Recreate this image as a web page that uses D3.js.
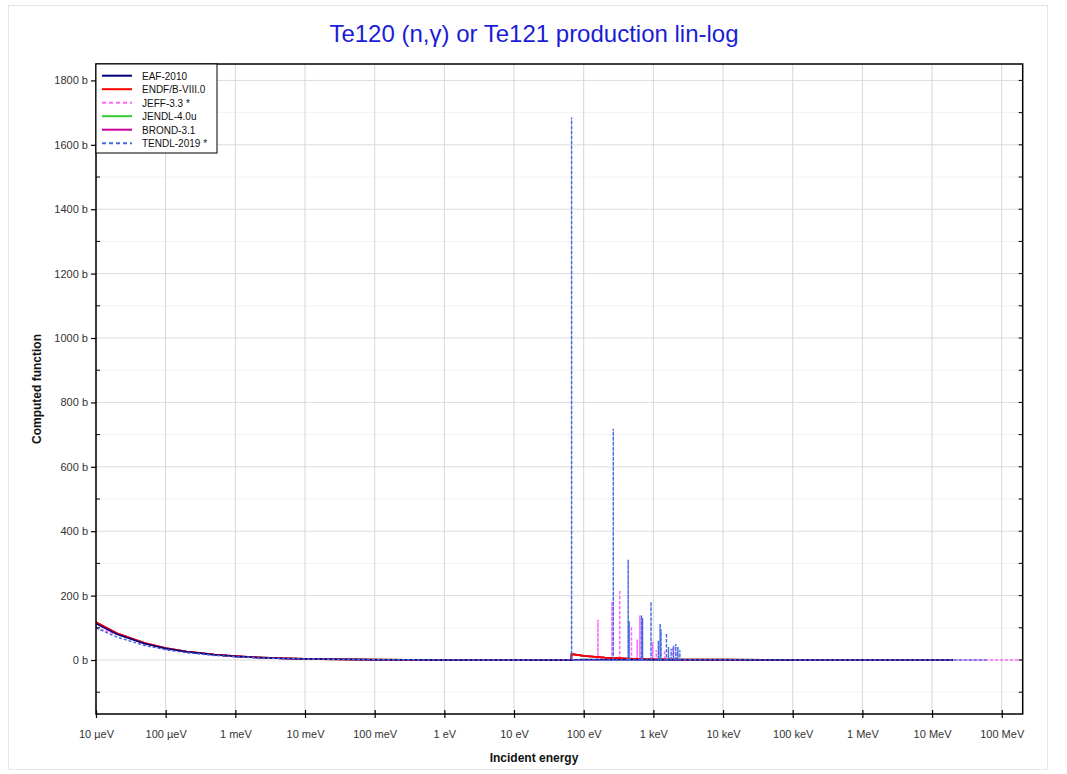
<!DOCTYPE html>
<html>
<head>
<meta charset="utf-8">
<script src="https://cdn.jsdelivr.net/npm/d3@7"></script>
<style>
  html, body { margin: 0; padding: 0; background: #fff; }
  svg { display: block; font-family: "Liberation Sans", Arial, sans-serif; }
</style>
</head>
<body>
<svg id="chart" width="1067" height="774"></svg>
<script>
// ---------------- DATA ----------------
const seriesNames = ["EAF-2010", "ENDF/B-VIII.0", "JEFF-3.3 *", "JENDL-4.0u", "BROND-3.1", "TENDL-2019 *"];

const xTickValues = [1e-5, 1e-4, 1e-3, 1e-2, 1e-1, 1, 10, 100, 1e3, 1e4, 1e5, 1e6, 1e7, 1e8];
const xTickLabels = ["10 µeV", "100 µeV", "1 meV", "10 meV", "100 meV", "1 eV", "10 eV", "100 eV", "1 keV", "10 keV", "100 keV", "1 MeV", "10 MeV", "100 MeV"];
const yTickValues = [0, 200, 400, 600, 800, 1000, 1200, 1400, 1600, 1800];
const yTickLabels = ["0 b", "200 b", "400 b", "600 b", "800 b", "1000 b", "1200 b", "1400 b", "1600 b", "1800 b"];
const yMinorValues = [-100, 100, 300, 500, 700, 900, 1100, 1300, 1500, 1700];

// smooth parts (energy in eV, value in b)
const eafE   = [1e-5, 2e-5, 5e-5, 1e-4, 2e-4, 5e-4, 1e-3, 2e-3, 5e-3, 1e-2, 3e-2, 0.1, 0.3, 1, 10, 67, 100, 300, 1000, 1e4, 1e5, 1e6, 1e7, 2e7];
const eafV   = [113, 80, 50.5, 35.7, 25.3, 16, 11.3, 8.0, 5.05, 3.57, 2.06, 1.13, 0.65, 0.36, 0.11, 0.05, 1.2, 1.0, 0.9, 0.6, 0.25, 0.1, 0.02, 0.01];

const endfE  = [1e-5, 2e-5, 5e-5, 1e-4, 2e-4, 5e-4, 1e-3, 2e-3, 5e-3, 1e-2, 3e-2, 0.1, 0.3, 1, 10, 66, 67, 100, 200, 300, 500, 1000, 3000, 1e4, 1e5, 1e6, 1e7, 2e7];
const endfV  = [117, 83, 52.3, 37, 26.2, 16.5, 11.7, 8.3, 5.2, 3.7, 2.1, 1.17, 0.68, 0.37, 0.12, 0.05, 18.6, 13, 7.5, 5.5, 3.5, 2.2, 1.3, 0.8, 0.3, 0.12, 0.03, 0.02];

const brondE = endfE;
const brondV = endfV;
const jendlE = endfE;
const jendlV = endfV;

const jeffE  = [1e-5, 1e-4, 1e-3, 1e-2, 0.1, 1, 10, 100, 3000, 1e4, 1e5, 1e6, 1e7, 2e8];
const jeffV  = [100, 32, 10, 3.2, 1.0, 0.32, 0.1, 0.5, 0.8, 0.6, 0.25, 0.08, 0.01, 0.005];
// resolved resonances of JEFF-3.3 (energy eV, peak b)
const jeffPeakE = [160, 255, 329, 485, 586, 641, 977, 1100, 1450, 1900, 2200];
const jeffPeakV = [125, 182, 217, 104, 64, 138, 57, 30, 30, 40, 25];

const tendlE = [1e-5, 2e-5, 5e-5, 1e-4, 2e-4, 5e-4, 1e-3, 2e-3, 5e-3, 1e-2, 0.1, 1, 10, 50, 3000, 1e4, 1e5, 1e6, 1e7, 6e7];
const tendlV = [100, 71, 45, 32, 22.5, 14.2, 10, 7.1, 4.5, 3.2, 1.0, 0.32, 0.1, 0.6, 1.0, 0.8, 0.25, 0.08, 0.01, 0.005];
// resolved resonances of TENDL-2019 (energy eV, peak b)
const tendlPeakE = [67, 266, 435, 449, 676, 700, 925, 1180, 1250, 1290, 1541, 1650, 1800, 1950, 2100, 2250, 2400];
const tendlPeakV = [1685, 718, 312, 120, 139, 130, 181, 60, 112, 95, 83, 40, 35, 45, 50, 40, 30];

// ---------------- CHART ----------------
const svg = d3.select("#chart");
const pL = 96, pR = 1022.7, pT = 64, pB = 714;

const x = d3.scaleLog().domain([1e-5, 2e8]).range([pL, pR]);
const y = d3.scaleLinear().domain([-167.7, 1851]).range([pB, pT]);

// outer faint frame
svg.append("rect").attr("x", 8.5).attr("y", 5.5).attr("width", 1039).attr("height", 764)
  .attr("fill", "none").attr("stroke", "#e6e6e6");

// title
svg.append("text").attr("x", 534).attr("y", 42).attr("text-anchor", "middle")
  .attr("fill", "#1c1cd6").style("font-size", "24px")
  .text("Te120 (n,γ) or Te121 production lin-log");

// grid
const grid = svg.append("g");
grid.selectAll("line.ymin").data(yMinorValues).enter().append("line")
  .attr("x1", pL).attr("x2", pR).attr("y1", d => y(d)).attr("y2", d => y(d))
  .attr("stroke", "#f2f2f2").attr("stroke-width", 1);
grid.selectAll("line.ymaj").data(yTickValues).enter().append("line")
  .attr("x1", pL).attr("x2", pR).attr("y1", d => y(d)).attr("y2", d => y(d))
  .attr("stroke", "#dcdcdc").attr("stroke-width", 1);
grid.selectAll("line.xmaj").data(xTickValues).enter().append("line")
  .attr("y1", pT).attr("y2", pB).attr("x1", d => x(d)).attr("x2", d => x(d))
  .attr("stroke", "#d6d6d6").attr("stroke-width", 1);

// build series
function pts(E, V) { return E.map((e, i) => [e, V[i]]); }
function withPeaks(E, V, PE, PV) {
  const base = pts(E, V);
  const sp = [];
  PE.forEach((e, i) => {
    sp.push([e * 0.9985, 0.5]);
    sp.push([e, PV[i]]);
    sp.push([e * 1.0015, 0.5]);
  });
  return base.concat(sp).sort((a, b) => a[0] - b[0]);
}

const series = [
  { name: "JEFF-3.3 *", color: "#ff66ff", dash: "3,2", w: 1.5, data: withPeaks(jeffE, jeffV, jeffPeakE, jeffPeakV) },
  { name: "JENDL-4.0u", color: "#33cc33", dash: null, w: 1.8, data: pts(jendlE, jendlV) },
  { name: "BROND-3.1", color: "#cc0099", dash: null, w: 1.8, data: pts(brondE, brondV) },
  { name: "ENDF/B-VIII.0", color: "#ff0000", dash: null, w: 1.8, data: pts(endfE, endfV) },
  { name: "EAF-2010", color: "#000080", dash: null, w: 1.5, data: pts(eafE, eafV) },
  { name: "TENDL-2019 *", color: "#4169e1", dash: "3,2", w: 1.4, data: withPeaks(tendlE, tendlV, tendlPeakE, tendlPeakV) }
];

const line = d3.line().x(d => x(d[0])).y(d => y(d[1]));
svg.append("clipPath").attr("id", "clip").append("rect")
  .attr("x", pL).attr("y", pT).attr("width", pR - pL).attr("height", pB - pT);
const plot = svg.append("g").attr("clip-path", "url(#clip)");
series.forEach(s => {
  plot.append("path").datum(s.data).attr("d", line)
    .attr("fill", "none").attr("stroke", s.color).attr("stroke-width", s.w)
    .attr("stroke-dasharray", s.dash);
});

// frame
svg.append("rect").attr("x", pL).attr("y", pT).attr("width", pR - pL).attr("height", pB - pT)
  .attr("fill", "none").attr("stroke", "#000").attr("stroke-width", 1.5);

// x axis
const xAxis = d3.axisBottom(x).tickValues(xTickValues)
  .tickFormat((d, i) => xTickLabels[i]).tickSizeInner(4).tickSizeOuter(0).tickPadding(12);
const gx = svg.append("g").attr("transform", `translate(0,${pB})`).call(xAxis);
gx.select(".domain").remove();
gx.selectAll(".tick line").attr("y1", -4).attr("y2", 4).attr("stroke", "#000").attr("stroke-width", 1.2);
gx.selectAll(".tick text").style("font-size", "11px").attr("fill", "#333");

// y axis
const yAxis = d3.axisLeft(y).tickValues(yTickValues)
  .tickFormat((d, i) => yTickLabels[i]).tickSizeInner(5).tickSizeOuter(0).tickPadding(3);
const gy = svg.append("g").attr("transform", `translate(${pL},0)`).call(yAxis);
gy.select(".domain").remove();
gy.selectAll(".tick line").attr("stroke", "#000").attr("stroke-width", 1.2);
gy.selectAll(".tick text").style("font-size", "11px").attr("fill", "#333");

// minor ticks inside (left and right)
svg.append("g").selectAll("line").data(yMinorValues).enter().append("line")
  .attr("x1", pL).attr("x2", pL + 4).attr("y1", d => y(d)).attr("y2", d => y(d))
  .attr("stroke", "#000").attr("stroke-width", 1);
svg.append("g").selectAll("line").data(yMinorValues.concat(yTickValues)).enter().append("line")
  .attr("x1", pR - 4).attr("x2", pR).attr("y1", d => y(d)).attr("y2", d => y(d))
  .attr("stroke", "#000").attr("stroke-width", 1);

// axis titles
svg.append("text").attr("x", 534).attr("y", 762).attr("text-anchor", "middle")
  .style("font-size", "12px").style("font-weight", "bold").attr("fill", "#111")
  .text("Incident energy");
svg.append("text").attr("transform", `translate(41,${(pT + pB) / 2}) rotate(-90)`)
  .attr("text-anchor", "middle").style("font-size", "12px").style("font-weight", "bold").attr("fill", "#111")
  .text("Computed function");

// legend
const legendOrder = [
  { name: "EAF-2010", color: "#000080", dash: null },
  { name: "ENDF/B-VIII.0", color: "#ff0000", dash: null },
  { name: "JEFF-3.3 *", color: "#ff66ff", dash: "4,3" },
  { name: "JENDL-4.0u", color: "#33cc33", dash: null },
  { name: "BROND-3.1", color: "#cc0099", dash: null },
  { name: "TENDL-2019 *", color: "#4169e1", dash: "4,3" }
];
const lg = svg.append("g");
lg.append("rect").attr("x", pL).attr("y", pT).attr("width", 121).attr("height", 89)
  .attr("fill", "#fff").attr("stroke", "#000").attr("stroke-width", 1);
legendOrder.forEach((s, i) => {
  const yy = 75.7 + i * 13.5;
  lg.append("line").attr("x1", 102).attr("x2", 132).attr("y1", yy).attr("y2", yy)
    .attr("stroke", s.color).attr("stroke-width", 2).attr("stroke-dasharray", s.dash);
  lg.append("text").attr("x", 142).attr("y", yy + 3.8).style("font-size", "10px").attr("fill", "#111")
    .text(s.name);
});
</script>
</body>
</html>
